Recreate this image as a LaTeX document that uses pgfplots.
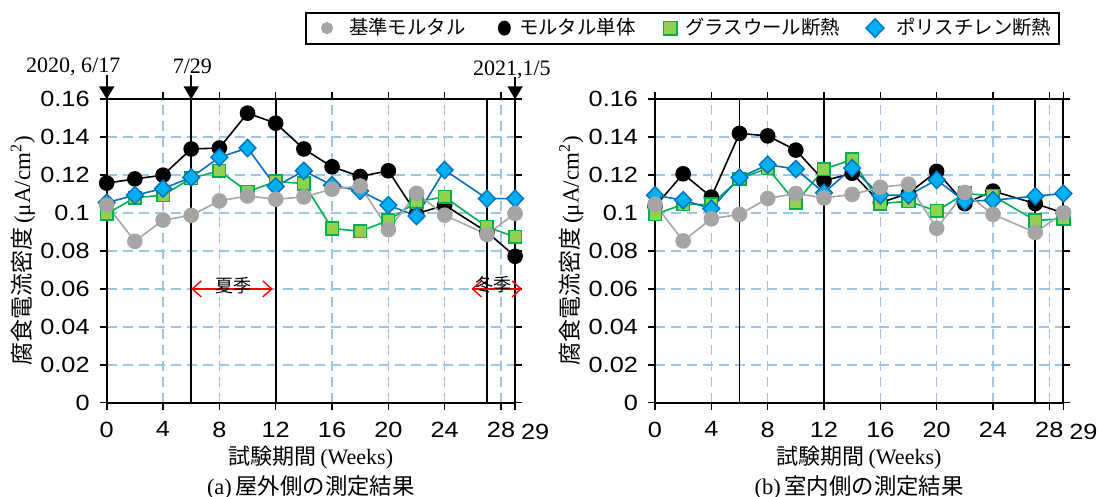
\documentclass[border=0pt]{standalone}
\usepackage{fontspec}
\usepackage{pgfplots}
\usepackage{pgfplotstable}
\pgfplotsset{compat=1.18}
\usetikzlibrary{arrows.meta}
\setmainfont{Liberation Sans}
\newfontfamily\tickfont{Liberation Sans}[FakeStretch=1.15]
\newfontfamily\jp{Noto Sans CJK JP}
\newfontfamily\tms{Liberation Serif}
\definecolor{gridblue}{HTML}{9DC3E6}
\definecolor{basegray}{HTML}{A5A5A5}
\definecolor{glassline}{HTML}{00B050}
\definecolor{glassfill}{HTML}{92D050}
\definecolor{polyline}{HTML}{0070C0}
\definecolor{polyfill}{HTML}{00B0F0}

\pgfplotstableread{
x    base    mortar  glass   poly
0    0.1042  0.1158  0.0996  0.1055
2    0.0851  0.1180  0.1081  0.1094
4    0.0963  0.1200  0.1094  0.1129
6    0.0988  0.1338  0.1184  0.1188
8    0.1064  0.1343  0.1223  0.1294
10   0.1090  0.1527  0.1113  0.1343
12   0.1073  0.1474  0.1166  0.1140
14   0.1085  0.1338  0.1156  0.1223
16   0.1126  0.1244  0.0919  0.1147
18   0.1143  0.1193  0.0904  0.1117
20   0.0913  0.1223  0.0961  0.1042
22   0.1104  0.0996  0.1060  0.0984
24   0.0989  0.1042  0.1085  0.1227
27   0.0887  0.0900  0.0927  0.1076
29   0.0998  0.0772  0.0874  0.1076
}\outdoor

\pgfplotstableread{
x    base    mortar  glass   poly
0    0.1046  0.1035  0.0993  0.1094
2    0.0853  0.1207  0.1046  0.1068
4    0.0970  0.1084  0.1046  0.1023
6    0.0993  0.1420  0.1180  0.1187
8    0.1077  0.1407  0.1237  0.1255
10   0.1103  0.1332  0.1055  0.1232
12   0.1080  0.1170  0.1232  0.1107
14   0.1098  0.1210  0.1282  0.1237
16   0.1136  0.1055  0.1050  0.1094
18   0.1152  0.1103  0.1062  0.1094
20   0.0920  0.1220  0.1011  0.1175
22   0.1109  0.1050  0.1103  0.1062
24   0.0993  0.1116  0.1091  0.1068
27   0.0898  0.1050  0.0961  0.1089
29   0.1000  0.1000  0.0970  0.1103
}\indoor

\pgfplotsset{
  legimg/.style 2 args={legend image code/.code={\draw[##1] plot coordinates {(0pt,0pt)}; \path (#1,0pt) (#2,0pt);}},
  myaxis/.style={
    scale only axis, width=204.2pt, height=151.7pt,
    xmin=0, xmax=29, ymin=0, ymax=0.16,
    xtick={0,4,8,12,16,20,24,28},
    xticklabels={0,4,8,12,16,20,24,28},
    ytick={0,0.02,0.04,0.06,0.08,0.1,0.12,0.14,0.16},
    yticklabels={0,0.02,0.04,0.06,0.08,0.1,0.12,0.14,0.16},
    extra x ticks={29}, extra x tick labels={29},
    grid=major,
    major grid style={gridblue, line width=0.8pt, dash pattern=on 5pt off 3pt},
    axis line style={black, line width=1pt},
    tick style={black, line width=0.8pt},
    tick align=outside, major tick length=3.5pt,
    tick label style={font=\tickfont\fontsize{11}{13}\selectfont},
    xticklabel style={yshift=-2.5pt},
    yticklabel style={xshift=-1.5pt},
    extra x tick style={grid=none, xticklabel style={xshift=10pt, yshift=-1.2pt}},
    clip=false,
    every axis y label/.style={at={(axis description cs:-0.205,0.5)}, rotate=90, anchor=center},
    every axis x label/.style={at={(axis description cs:0.5,-0.182)}, anchor=center},
    ylabel={\fontsize{11.5}{13}\selectfont{\jp 腐食電流密度}\,{\tms (μA/cm\textsuperscript{2})}},
    xlabel={\fontsize{11}{13}\selectfont{\jp 試験期間}\,{\tms (Weeks)}},
  },
  sblack/.style={black, line width=0.8pt, mark=*, mark size=3.5pt, mark options={fill=black, draw=black}},
  sgray/.style={basegray, line width=0.8pt, mark=*, mark size=3.5pt, mark options={fill=basegray, draw=basegray}},
  sgreen/.style={glassline, line width=0.8pt, mark=square*, mark size=3.15pt, mark options={fill=glassfill, draw=glassline, line width=0.8pt}},
  sblue/.style={polyline, line width=0.8pt, mark=diamond*, mark size=4.3pt, mark options={fill=polyfill, draw=polyline, line width=0.7pt, xscale=1.3}},
}

\begin{document}
\begin{tikzpicture}
\path[use as bounding box] (0pt,0pt) rectangle (549pt,248.5pt);

% ---------- left axis (a) ----------
\begin{axis}[myaxis, at={(53.35pt,47.15pt)}, anchor=south west]
\addplot[black, line width=0.7pt, forget plot] coordinates {(6,0) (6,0.16)};
\addplot[black, line width=0.9pt, forget plot] coordinates {(12,0) (12,0.16)};
\addplot[black, line width=0.7pt, forget plot] coordinates {(27,0) (27,0.16)};
\addplot[black, line width=1pt, forget plot] coordinates {(29,0) (29,0.16)};
\addplot[sblack, forget plot] table[x=x, y=mortar] {\outdoor};
\addplot[sgreen, forget plot] table[x=x, y=glass] {\outdoor};
\addplot[sblue, forget plot] table[x=x, y=poly] {\outdoor};
\addplot[sgray, forget plot] table[x=x, y=base] {\outdoor};
% season arrows
\draw[red, line width=0.7pt, {Straight Barb[length=4.5pt,width=8pt]}-{Straight Barb[length=4.5pt,width=8pt]}] (axis cs:6,0.06) -- (axis cs:11.8,0.06);
\node[anchor=south, inner sep=0pt, yshift=-2.5pt, font=\jp\fontsize{9}{10}\selectfont] at (axis cs:9,0.06) {夏季};
\draw[red, line width=0.7pt, {Straight Barb[length=4.5pt,width=8pt]}-{Straight Barb[length=4.5pt,width=8pt]}] (axis cs:25.9,0.06) -- (axis cs:29.5,0.06);
\node[anchor=south, inner sep=0pt, yshift=-2.5pt, font=\jp\fontsize{9}{10}\selectfont] at (axis cs:27.5,0.06) {冬季};
% date arrows
\draw[black, line width=0.8pt, -{Triangle[length=6.5pt,width=7.5pt]}] ([yshift=12pt]axis cs:0,0.16) -- (axis cs:0,0.16);
\draw[black, line width=0.8pt, -{Triangle[length=6.5pt,width=7.5pt]}] ([yshift=12pt]axis cs:6,0.16) -- (axis cs:6,0.16);
\draw[black, line width=0.8pt, -{Triangle[length=6.5pt,width=7.5pt]}] ([yshift=11pt]axis cs:29,0.16) -- (axis cs:29,0.16);
\node[font=\tms\fontsize{11}{13}\selectfont, inner sep=0pt] at ([xshift=-16.7pt, yshift=16.3pt]axis cs:0,0.16) {2020, 6/17};
\node[font=\tms\fontsize{11}{13}\selectfont, inner sep=0pt] at ([xshift=0.6pt, yshift=16.3pt]axis cs:6,0.16) {7/29};
\node[font=\tms\fontsize{11}{13}\selectfont, inner sep=0pt] at ([xshift=-1.6pt, yshift=14.5pt]axis cs:29,0.16) {2021,1/5};
% caption
\node[font=\fontsize{11.2}{13}\selectfont, inner sep=0pt] at (axis description cs:0.5,-0.278) {{\tms (a)}\,{\jp 屋外側の測定結果}};
\end{axis}

% ---------- right axis (b) ----------
\begin{axis}[myaxis, at={(327.5pt,47.15pt)}, anchor=south west,
  legend columns=4,
  legend style={at={(axis description cs:-0.857,1.289)}, anchor=north west,
    draw=black, line width=1pt, inner xsep=2pt, inner ysep=3pt,
    font=\jp\fontsize{9.7}{12}\selectfont,
    nodes={inner xsep=2pt, inner ysep=0pt, text height=8pt, text depth=1.5pt},
    column sep=0pt},
]
\addplot[black, line width=0.7pt, forget plot] coordinates {(6,0) (6,0.16)};
\addplot[black, line width=0.9pt, forget plot] coordinates {(12,0) (12,0.16)};
\addplot[black, line width=0.9pt, forget plot] coordinates {(27,0) (27,0.16)};
\addplot[black, line width=1pt, forget plot] coordinates {(29,0) (29,0.16)};
\addplot[sblack, forget plot] table[x=x, y=mortar] {\indoor};
\addplot[sgreen, forget plot] table[x=x, y=glass] {\indoor};
\addplot[sblue, forget plot] table[x=x, y=poly] {\indoor};
\addplot[sgray, forget plot] table[x=x, y=base] {\indoor};
\addlegendimage{only marks, mark=*, mark size=2.5pt, basegray, mark options={fill=basegray, draw=basegray}, legimg={-8pt}{8.5pt}}
\addlegendentry{基準モルタル}
\addlegendimage{only marks, mark=*, mark size=2.7pt, black, mark options={fill=black, yscale=1.2}, legimg={-17pt}{4.85pt}}
\addlegendentry{モルタル単体}
\addlegendimage{only marks, mark=square*, mark size=3.4pt, glassline, mark options={fill=glassfill, draw=glassline, line width=0.8pt}, legimg={-14.85pt}{5pt}}
\addlegendentry{グラスウール断熱}
\addlegendimage{only marks, mark=diamond*, mark size=4.6pt, polyline, mark options={fill=polyfill, draw=polyline, line width=0.7pt, xscale=1.3}, legimg={-15pt}{8pt}}
\addlegendentry{ポリスチレン断熱}
\node[font=\fontsize{11.2}{13}\selectfont, inner sep=0pt] at (axis description cs:0.5,-0.278) {{\tms (b)}\,{\jp 室内側の測定結果}};
\end{axis}
\end{tikzpicture}
\end{document}
